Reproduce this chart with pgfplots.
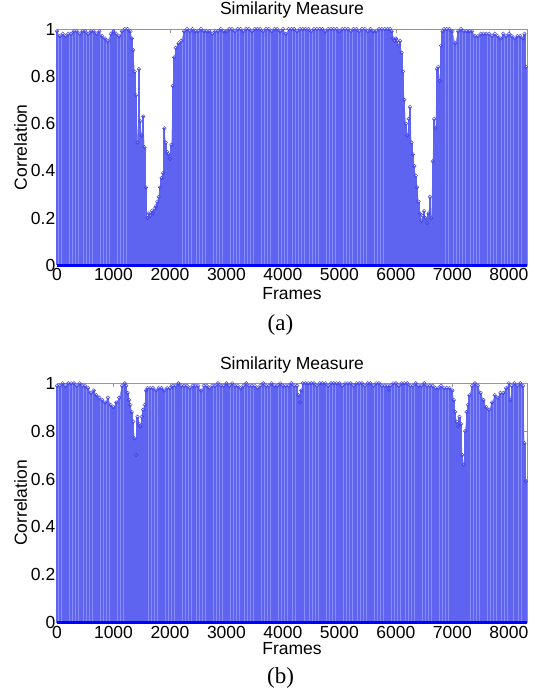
\documentclass[border=0pt]{standalone}
\usepackage{pgfplots}
\usepackage{pgfplotstable}
\pgfplotsset{compat=1.18}
\usepackage{fontspec}
\setmainfont{Liberation Sans}
\newfontfamily\capfont{Liberation Serif}

\definecolor{stemblue}{RGB}{95,100,240}
\definecolor{gapblue}{RGB}{135,140,246}
\definecolor{markblue}{RGB}{60,60,235}
\definecolor{boxgray}{RGB}{150,150,150}

% panel (a)
\pgfplotstableread{
x y
0 0.99
50 0.97
100 0.98
150 0.97
200 0.98
250 0.98
300 0.99
350 0.99
400 0.98
450 0.99
500 0.99
550 0.98
600 0.99
650 0.99
700 0.98
750 0.99
800 0.97
850 0.96
900 0.95
950 0.98
1000 0.99
1050 0.98
1100 0.97
1150 0.99
1200 1.00
1250 1.00
1300 0.99
1325 0.96
1350 0.91
1375 0.82
1400 0.72
1425 0.52
1450 0.83
1475 0.61
1500 0.55
1525 0.63
1550 0.50
1575 0.33
1600 0.20
1625 0.22
1650 0.21
1675 0.23
1700 0.22
1725 0.24
1750 0.25
1775 0.27
1800 0.29
1825 0.33
1850 0.37
1875 0.39
1900 0.58
1925 0.52
1950 0.48
1975 0.47
2000 0.45
2025 0.51
2050 0.76
2075 0.88
2100 0.92
2150 0.94
2200 0.95
2250 0.99
2300 1.00
2350 0.99
2400 1.00
2450 0.99
2500 0.99
2550 1.00
2600 0.99
2650 0.99
2700 0.99
2750 0.98
2800 0.99
2850 0.99
2900 1.00
2950 0.99
3000 0.99
3050 1.00
3100 1.00
3150 0.99
3200 1.00
3250 1.00
3300 0.99
3350 1.00
3400 1.00
3450 0.99
3500 1.00
3550 1.00
3600 1.00
3650 0.99
3700 1.00
3750 1.00
3800 0.99
3850 1.00
3900 1.00
3950 0.99
4000 1.00
4050 0.98
4100 1.00
4150 1.00
4200 1.00
4250 0.99
4300 1.00
4350 1.00
4400 1.00
4450 1.00
4500 0.99
4550 1.00
4600 1.00
4650 1.00
4700 1.00
4750 0.99
4800 1.00
4850 1.00
4900 1.00
4950 1.00
5000 0.99
5050 1.00
5100 1.00
5150 1.00
5200 0.99
5250 1.00
5300 1.00
5350 0.99
5400 1.00
5450 1.00
5500 0.99
5550 1.00
5600 0.99
5650 0.99
5700 1.00
5750 1.00
5800 1.00
5850 1.00
5900 1.00
5925 0.99
5950 0.96
5975 0.95
6000 0.96
6025 0.95
6050 0.93
6075 0.95
6100 0.90
6125 0.82
6150 0.70
6175 0.60
6200 0.55
6225 0.62
6250 0.67
6275 0.52
6300 0.47
6325 0.42
6350 0.38
6375 0.33
6400 0.27
6425 0.22
6450 0.19
6475 0.21
6500 0.23
6525 0.20
6550 0.18
6575 0.22
6600 0.29
6625 0.20
6650 0.44
6675 0.62
6700 0.58
6725 0.83
6750 0.84
6775 0.78
6800 0.93
6825 0.99
6850 1.00
6900 1.00
6950 1.00
7000 0.99
7050 0.94
7100 0.99
7150 1.00
7200 0.99
7250 0.99
7300 0.99
7350 0.99
7400 0.97
7450 0.97
7500 0.98
7550 0.98
7600 0.98
7650 0.98
7700 0.97
7750 0.98
7800 0.97
7850 0.96
7900 0.98
7950 0.97
8000 0.98
8050 0.97
8100 0.96
8150 0.97
8200 0.97
8250 0.96
8275 0.98
8300 0.84
}\dataA

% panel (b)
\pgfplotstableread{
x y
0 0.99
50 0.99
100 1.00
150 0.99
200 1.00
250 1.00
300 1.00
350 0.99
400 1.00
450 0.99
500 0.99
550 0.98
600 0.96
650 0.97
700 0.95
750 0.94
800 0.93
850 0.92
900 0.94
950 0.91
1000 0.90
1050 0.92
1100 0.94
1150 0.99
1200 1.00
1225 0.99
1250 0.96
1275 0.93
1300 0.91
1325 0.88
1350 0.84
1375 0.77
1400 0.70
1425 0.86
1450 0.83
1475 0.82
1500 0.86
1525 0.89
1550 0.91
1575 0.97
1600 0.98
1650 0.98
1700 0.98
1750 0.97
1800 0.98
1850 0.98
1900 0.97
1950 0.98
2000 0.98
2050 0.99
2100 0.99
2150 1.00
2200 0.99
2250 0.99
2300 0.99
2350 0.98
2400 0.99
2450 0.99
2500 0.99
2550 0.97
2600 0.99
2650 0.99
2700 0.98
2750 0.99
2800 0.99
2850 1.00
2900 0.99
2950 0.99
3000 1.00
3050 0.99
3100 1.00
3150 0.99
3200 0.99
3250 0.98
3300 0.99
3350 1.00
3400 0.99
3450 0.99
3500 0.99
3550 0.98
3600 0.99
3650 1.00
3700 0.99
3750 0.99
3800 1.00
3850 0.99
3900 0.99
3950 1.00
4000 0.99
4050 0.99
4100 0.99
4150 1.00
4200 0.99
4250 0.99
4275 0.95
4300 0.92
4325 0.97
4350 1.00
4400 1.00
4450 1.00
4500 1.00
4550 1.00
4600 0.99
4650 1.00
4700 1.00
4750 1.00
4800 0.99
4850 1.00
4900 1.00
4950 1.00
5000 1.00
5050 0.99
5100 1.00
5150 1.00
5200 1.00
5250 0.99
5300 1.00
5350 1.00
5400 1.00
5450 0.99
5500 1.00
5550 1.00
5600 0.99
5650 1.00
5700 1.00
5750 0.99
5800 0.99
5850 0.99
5875 0.97
5900 0.99
5950 1.00
6000 1.00
6050 0.99
6100 1.00
6150 1.00
6200 1.00
6250 0.99
6300 0.99
6350 1.00
6400 0.99
6450 0.99
6500 1.00
6550 0.99
6600 0.99
6650 0.99
6700 0.98
6750 0.98
6800 0.99
6850 0.98
6900 0.98
6950 0.98
7000 0.97
7025 0.93
7050 0.88
7075 0.84
7100 0.82
7125 0.86
7150 0.83
7175 0.70
7200 0.66
7225 0.80
7250 0.88
7275 0.91
7300 0.95
7350 0.99
7400 1.00
7450 0.99
7500 0.96
7550 0.93
7600 0.90
7650 0.89
7700 0.92
7750 0.95
7800 0.94
7850 0.96
7900 0.96
7950 0.98
8000 1.00
8025 0.93
8050 0.99
8100 1.00
8150 0.99
8200 1.00
8250 0.99
8275 0.75
8300 0.59
}\dataB

\pgfplotsset{
  simstyle/.style={
    scale only axis,
    width=470pt,
    xmin=0, xmax=8320,
    ymin=0, ymax=1,
    xtick={0,1000,2000,3000,4000,5000,6000,7000,8000},
    ytick={0,0.2,0.4,0.6,0.8,1},
    scaled x ticks=false,
    /pgf/number format/1000 sep={},
    /pgf/number format/assume math mode=true,
    tick align=inside,
    major tick length=4pt,
    tick style={boxgray, line width=0.5pt},
    axis line style={boxgray, line width=0.6pt},
    ticklabel style={font=\fontsize{17.5}{19}\selectfont},
    xticklabel style={inner sep=3pt},
    yticklabel style={inner sep=1.5pt},
    label style={font=\fontsize{17.5}{19}\selectfont},
    ylabel={Correlation},
    xlabel={Frames},
    clip=false,
  },
}

\begin{document}
\begin{tikzpicture}
\path[use as bounding box] (0,0) rectangle (537pt,693pt);

% panel (a)
\begin{axis}[simstyle,
    at={(57pt,427.5pt)}, anchor=south west,
    height=236.5pt,
    ylabel style={at={(-0.0774,0.5)}, anchor=center},
    xlabel style={at={(0.5,-0.1175)}, anchor=center},
]
\addplot[fill=gapblue, draw=none, no marks] table {\dataA} \closedcycle;
\addplot[ycomb, stemblue, line width=2.1pt, no marks] table {\dataA};
\addplot[only marks, mark=o, mark size=1.8pt, markblue, mark options={line width=0.45pt}] table {\dataA};
\addplot[blue, line width=2.5pt, no marks] coordinates {(0,0) (8320,0)};
\end{axis}
\node[font=\fontsize{17.5}{19}\selectfont] at (292pt,683pt) {Similarity Measure};
\node[font=\capfont\fontsize{23}{26}\selectfont] at (280.5pt,368pt) {(a)};

% panel (b)
\begin{axis}[simstyle,
    at={(57pt,70.3pt)}, anchor=south west,
    height=239.4pt,
    ylabel style={at={(-0.0774,0.5)}, anchor=center},
    xlabel style={at={(0.5,-0.107)}, anchor=center},
]
\addplot[fill=gapblue, draw=none, no marks] table {\dataB} \closedcycle;
\addplot[ycomb, stemblue, line width=2.1pt, no marks] table {\dataB};
\addplot[only marks, mark=o, mark size=1.8pt, markblue, mark options={line width=0.45pt}] table {\dataB};
\addplot[blue, line width=2.5pt, no marks] coordinates {(0,0) (8320,0)};
\end{axis}
\node[font=\fontsize{17.5}{19}\selectfont] at (292pt,328pt) {Similarity Measure};
\node[font=\capfont\fontsize{23}{26}\selectfont] at (280.5pt,15pt) {(b)};
\end{tikzpicture}
\end{document}
